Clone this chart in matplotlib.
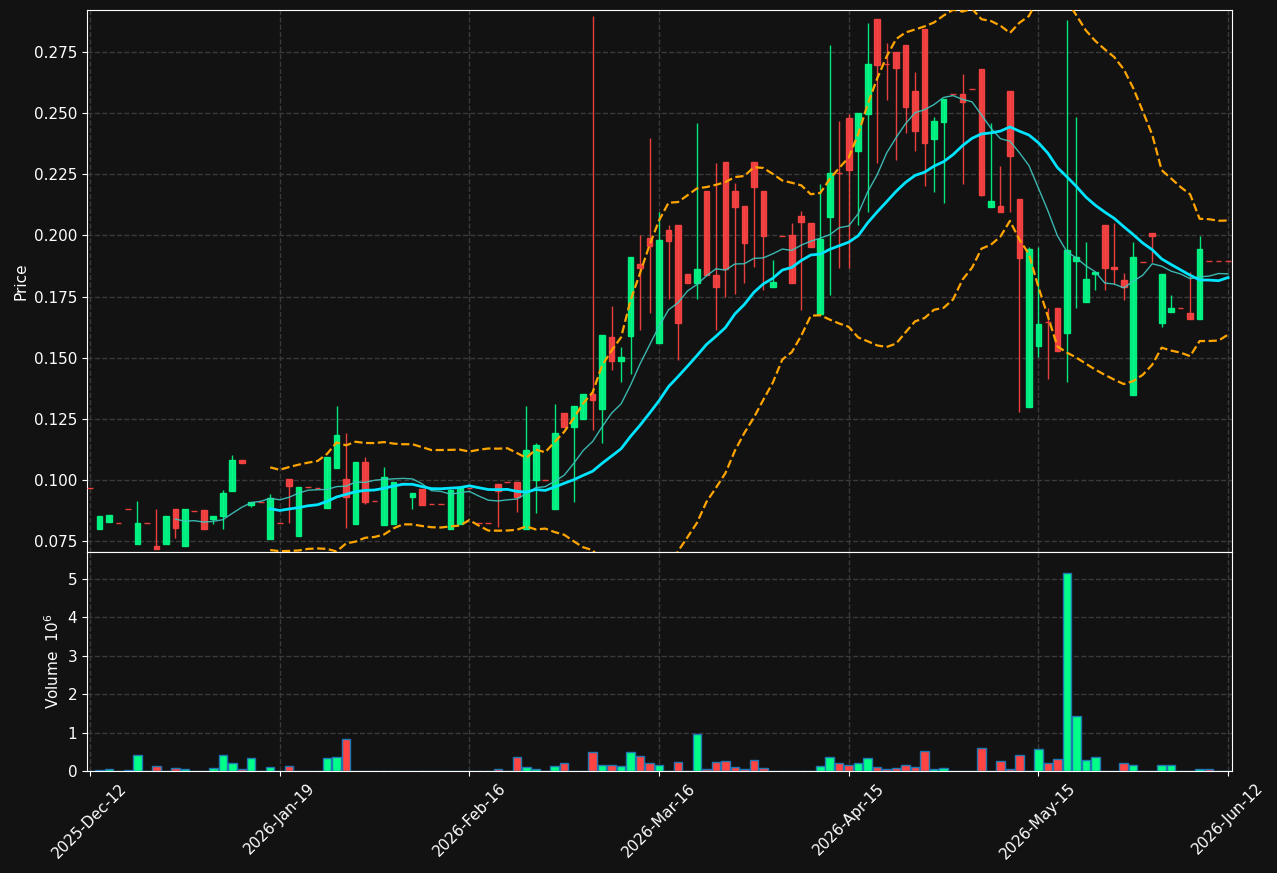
import numpy as np
import pandas as pd
import matplotlib
matplotlib.use('Agg')
import matplotlib.pyplot as plt

# OHLC + volume (volume in 1e6), one bar per trading index
opens = [0.0966, 0.0800, 0.0829, 0.0822, 0.0880, 0.0739, 0.0822, 0.0730, 0.0739, 0.0881,
         0.0731, 0.0872, 0.0877, 0.0841, 0.0853, 0.0956, 0.1081, 0.0899, 0.0908, 0.0758,
         0.0822, 0.1004, 0.0772, 0.0970, 0.0965, 0.0886, 0.1050, 0.1004, 0.0820, 0.1073,
         0.0912, 0.0815, 0.0820, 0.0989, 0.0930, 0.0963, 0.0900, 0.0900, 0.0799, 0.0820,
         0.0966, 0.0822, 0.0822, 0.0982, 0.0991, 0.0991, 0.0800, 0.1000, 0.1000, 0.0880,
         0.1272, 0.1217, 0.1250, 0.1351, 0.1291, 0.1583, 0.1487, 0.1590, 0.1883, 0.1989,
         0.1558, 0.2022, 0.2042, 0.1842, 0.1807, 0.2183, 0.1840, 0.2300, 0.2181, 0.2120,
         0.2300, 0.2181, 0.1790, 0.1999, 0.2001, 0.2079, 0.2050, 0.1680, 0.2076, 0.2257,
         0.2482, 0.2347, 0.2496, 0.2887, 0.2700, 0.2749, 0.2778, 0.2590, 0.2846, 0.2396,
         0.2466, 0.2578, 0.2578, 0.2597, 0.2679, 0.2117, 0.2120, 0.2590, 0.2149, 0.1299,
         0.1549, 0.1647, 0.1702, 0.1599, 0.1897, 0.1726, 0.1842, 0.2042, 0.1869, 0.1817,
         0.1347, 0.1890, 0.2008, 0.1640, 0.1688, 0.1705, 0.1682, 0.1658, 0.1895, 0.1895,
         0.1895]
highs = [0.0966, 0.0852, 0.0856, 0.0822, 0.0880, 0.0912, 0.0822, 0.0880, 0.0852, 0.0881,
         0.0881, 0.0872, 0.0877, 0.0852, 0.0959, 0.1102, 0.1081, 0.0910, 0.0908, 0.0941,
         0.0822, 0.1004, 0.0971, 0.0970, 0.0965, 0.1094, 0.1302, 0.1190, 0.1073, 0.1092,
         0.0912, 0.1051, 0.0991, 0.0989, 0.0945, 0.0963, 0.0900, 0.0900, 0.0962, 0.0970,
         0.0966, 0.0822, 0.0822, 0.0982, 0.0991, 0.0991, 0.1302, 0.1150, 0.1000, 0.1309,
         0.1272, 0.1302, 0.1351, 0.2897, 0.1593, 0.1711, 0.1542, 0.1912, 0.2000, 0.2397,
         0.2097, 0.2041, 0.2042, 0.1842, 0.2458, 0.2183, 0.2298, 0.2300, 0.2216, 0.2120,
         0.2300, 0.2181, 0.1899, 0.1999, 0.2050, 0.2099, 0.2050, 0.2210, 0.2779, 0.2468,
         0.2496, 0.2502, 0.2868, 0.2887, 0.2788, 0.2749, 0.2778, 0.2667, 0.2846, 0.2486,
         0.2557, 0.2578, 0.2660, 0.2597, 0.2679, 0.2458, 0.2286, 0.2590, 0.2149, 0.1954,
         0.1951, 0.1702, 0.1702, 0.2881, 0.2486, 0.1974, 0.1850, 0.2042, 0.2050, 0.1848,
         0.1974, 0.1890, 0.2008, 0.1842, 0.1756, 0.1705, 0.1851, 0.1997, 0.1895, 0.1895,
         0.1895]
lows = [0.0966, 0.0800, 0.0829, 0.0822, 0.0880, 0.0739, 0.0822, 0.0719, 0.0739, 0.0761,
        0.0731, 0.0872, 0.0800, 0.0818, 0.0800, 0.0956, 0.1070, 0.0890, 0.0908, 0.0758,
        0.0822, 0.0822, 0.0772, 0.0970, 0.0965, 0.0886, 0.1050, 0.0802, 0.0820, 0.0900,
        0.0912, 0.0815, 0.0820, 0.0989, 0.0880, 0.0897, 0.0900, 0.0900, 0.0799, 0.0820,
        0.0966, 0.0822, 0.0822, 0.0809, 0.0991, 0.0870, 0.0800, 0.0863, 0.1000, 0.0880,
        0.1215, 0.0911, 0.1250, 0.1204, 0.1150, 0.1449, 0.1399, 0.1433, 0.1613, 0.1681,
        0.1558, 0.1740, 0.1490, 0.1807, 0.1740, 0.1838, 0.1613, 0.1750, 0.1760, 0.1807,
        0.1869, 0.1777, 0.1790, 0.1999, 0.1807, 0.1693, 0.1951, 0.1680, 0.1756, 0.1866,
        0.1865, 0.2042, 0.2097, 0.2297, 0.2555, 0.2308, 0.2417, 0.2346, 0.2202, 0.2179,
        0.2131, 0.2578, 0.2209, 0.2597, 0.2160, 0.2117, 0.2097, 0.2097, 0.1279, 0.1299,
        0.1501, 0.1411, 0.1529, 0.1402, 0.1702, 0.1726, 0.1777, 0.1777, 0.1803, 0.1736,
        0.1347, 0.1890, 0.1890, 0.1624, 0.1688, 0.1705, 0.1658, 0.1658, 0.1895, 0.1895,
        0.1895]
closes = [0.0966, 0.0852, 0.0856, 0.0822, 0.0880, 0.0822, 0.0822, 0.0719, 0.0852, 0.0805,
          0.0881, 0.0872, 0.0800, 0.0852, 0.0946, 0.1081, 0.1070, 0.0910, 0.0908, 0.0925,
          0.0822, 0.0975, 0.0971, 0.0970, 0.0965, 0.1094, 0.1184, 0.0931, 0.1073, 0.0910,
          0.0912, 0.1012, 0.0991, 0.0989, 0.0945, 0.0897, 0.0900, 0.0900, 0.0959, 0.0970,
          0.0966, 0.0822, 0.0822, 0.0956, 0.0991, 0.0931, 0.1122, 0.1143, 0.1000, 0.1190,
          0.1215, 0.1302, 0.1351, 0.1327, 0.1593, 0.1487, 0.1502, 0.1912, 0.1868, 0.1958,
          0.1981, 0.1978, 0.1640, 0.1807, 0.1862, 0.1838, 0.1790, 0.1861, 0.2117, 0.1968,
          0.2199, 0.1999, 0.1809, 0.1999, 0.1807, 0.2055, 0.1951, 0.1985, 0.2257, 0.2257,
          0.2268, 0.2502, 0.2701, 0.2697, 0.2700, 0.2686, 0.2526, 0.2428, 0.2379, 0.2468,
          0.2557, 0.2578, 0.2547, 0.2597, 0.2165, 0.2141, 0.2097, 0.2326, 0.1909, 0.1943,
          0.1638, 0.1647, 0.1529, 0.1940, 0.1910, 0.1820, 0.1850, 0.1868, 0.1864, 0.1790,
          0.1910, 0.1890, 0.1999, 0.1842, 0.1705, 0.1705, 0.1658, 0.1943, 0.1895, 0.1895,
          0.1895]
volumes = [0.0, 0.02, 0.044, 0.0, 0.02, 0.41, 0.0, 0.12, 0.01, 0.07,
           0.044, 0.0, 0.0, 0.07, 0.41, 0.20, 0.044, 0.33, 0.01, 0.096,
           0.0, 0.12, 0.01, 0.0, 0.0, 0.33, 0.36, 0.83, 0.0, 0.01,
           0.0, 0.01, 0.01, 0.0, 0.0, 0.01, 0.0, 0.0, 0.0, 0.0,
           0.0, 0.0, 0.0, 0.044, 0.01, 0.36, 0.096, 0.044, 0.0, 0.12,
           0.20, 0.01, 0.01, 0.49, 0.17, 0.17, 0.12, 0.49, 0.38, 0.20,
           0.15, 0.01, 0.23, 0.0, 0.96, 0.044, 0.23, 0.25, 0.096, 0.044,
           0.28, 0.07, 0.01, 0.0, 0.0, 0.01, 0.01, 0.12, 0.36, 0.20,
           0.15, 0.20, 0.33, 0.096, 0.044, 0.07, 0.15, 0.096, 0.51, 0.044,
           0.07, 0.0, 0.01, 0.01, 0.59, 0.01, 0.25, 0.044, 0.41, 0.01,
           0.57, 0.20, 0.31, 5.15, 1.43, 0.28, 0.36, 0.01, 0.01, 0.20,
           0.15, 0.0, 0.01, 0.17, 0.17, 0.0, 0.01, 0.044, 0.044, 0.0,
           0.0]

tick_idx = [0, 20, 40, 60, 80, 100, 120]
tick_labels = ['2025-Dec-12', '2026-Jan-19', '2026-Feb-16', '2026-Mar-16',
               '2026-Apr-15', '2026-May-15', '2026-Jun-12']

bg = '#121212'
up = '#00ff88'
down = '#ff4444'

df = pd.DataFrame({'open': opens, 'high': highs, 'low': lows, 'close': closes, 'vol': volumes})
x = np.arange(len(df))
ma10 = df['close'].rolling(10).mean()
ma20 = df['close'].rolling(20).mean()
sd20 = df['close'].rolling(20).std(ddof=0)
upper = ma20 + 2 * sd20
lower = ma20 - 2 * sd20

colors = [up if c > o else down for o, c in zip(df['open'], df['close'])]

fig = plt.figure(figsize=(12.77, 8.73), dpi=100, facecolor=bg)
ax = fig.add_axes([0.0681, 0.3677, 0.8967, 0.6208], facecolor=bg)
ax2 = fig.add_axes([0.0681, 0.1168, 0.8967, 0.2509], facecolor=bg, sharex=ax)

# candles
ax.vlines(x, df['low'], df['high'], colors=colors, linewidth=1, alpha=0.9, zorder=3)
body_lo = np.minimum(df['open'], df['close'])
body_h = np.abs(df['close'] - df['open'])
ax.bar(x, body_h, bottom=body_lo, width=0.6, color=colors, edgecolor=colors,
       linewidth=1, alpha=0.9, zorder=4)

ax.plot(x, ma10, color='#3fc8c0', linewidth=1, alpha=0.9, zorder=5)
ax.plot(x, ma20, color='#00e5ff', linewidth=2, zorder=5)
ax.plot(x, upper, color='#ffa500', linewidth=1.6, linestyle='--', zorder=5)
ax.plot(x, lower, color='#ffa500', linewidth=1.6, linestyle='--', zorder=5)

ax.set_ylim(0.0705, 0.2922)
ax.set_yticks(np.arange(0.075, 0.2751, 0.025))
ax.yaxis.set_major_formatter(matplotlib.ticker.FormatStrFormatter('%.3f'))
ax.set_ylabel('Price', color='white', fontsize=11)

# volume
ax2.bar(x, df['vol'], width=0.9, color=colors, edgecolor='#1f77b4', linewidth=1, zorder=3)
ax2.set_ylim(0, 5.7)
ax2.set_yticks([0, 1, 2, 3, 4, 5])
ax2.set_ylabel('Volume  $10^{6}$', color='white', fontsize=11)

ax2.set_xlim(-0.32, 120.42)
ax2.set_xticks(tick_idx)
ax2.set_xticklabels(tick_labels, rotation=45)
plt.setp(ax.get_xticklabels(), visible=False)

for a in (ax, ax2):
    a.grid(True, color='#3a3a3a', linestyle='--', linewidth=1)
    a.set_axisbelow(True)
    a.tick_params(colors='white', labelsize=11)
    for s in a.spines.values():
        s.set_color('white')

fig.savefig('out.png', dpi=100, facecolor=bg)
